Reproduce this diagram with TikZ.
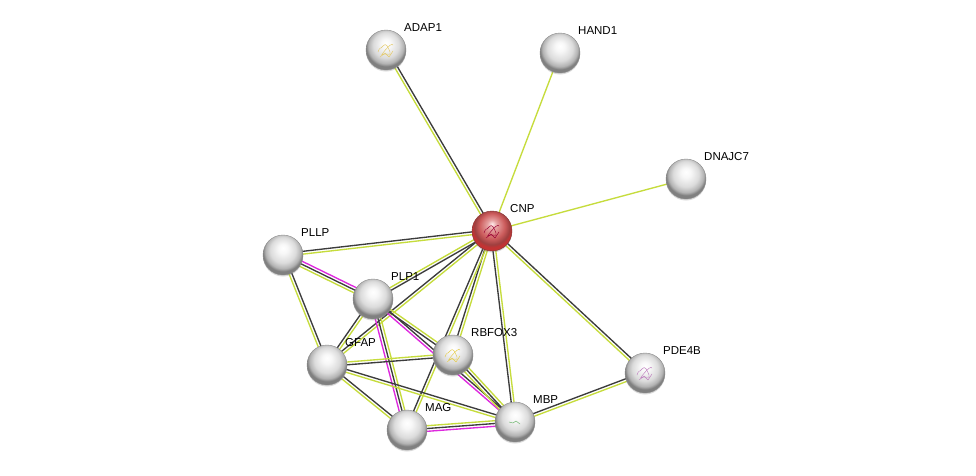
\documentclass[tikz,border=0pt]{standalone}
\usepackage{fontspec}
\setmainfont{Liberation Sans}
\usetikzlibrary{calc,backgrounds,shadows}
\definecolor{tm}{RGB}{198,220,60}
\definecolor{co}{RGB}{60,60,60}
\definecolor{ex}{RGB}{222,40,222}
\pgfdeclareradialshading{graysphere}{\pgfpoint{0bp}{9bp}}{color(0bp)=(white); color(6bp)=(white!97!black); color(16bp)=(black!14); color(22bp)=(black!30); color(25bp)=(black!50); color(50bp)=(black!50)}
\pgfdeclareradialshading{redsphere}{\pgfpoint{0bp}{9bp}}{color(0bp)=(red!8!white); color(6bp)=(red!30!white!90!black); color(16bp)=(red!55!white!80!black); color(22bp)=(red!60!white!62!black); color(25bp)=(red!70!black!80); color(50bp)=(red!70!black!80)}
\tikzset{
  prot/.style={circle, minimum size=40pt, inner sep=0pt, shading=graysphere, draw=black!45, line width=0.4pt,
    drop shadow={shadow xshift=0pt, shadow yshift=-1.5pt, opacity=0.3}},
  seed/.style={prot, shading=redsphere, draw=red!40!black!80},
  lab/.style={anchor=west, font=\fontsize{11.5}{13}\selectfont, inner sep=0pt},
  ed/.style={line width=1.35pt},
  squigline/.style={line width=0.45pt, line join=round, line cap=round},
}
\newcommand\edgeline[4]{\draw[ed,#4] ($(#1)!#3!90:(#2)$) -- ($(#2)!#3!-90:(#1)$);}
\newcommand\eOne[3]{\edgeline{#1}{#2}{0pt}{#3}}
\newcommand\eTwo[4]{\edgeline{#1}{#2}{-1.4pt}{#3}\edgeline{#1}{#2}{1.4pt}{#4}}
\newcommand\eThree[5]{\edgeline{#1}{#2}{-2.8pt}{#3}\edgeline{#1}{#2}{0pt}{#4}\edgeline{#1}{#2}{2.8pt}{#5}}
\newcommand\squig[2]{\draw[squigline,#2] ($(#1)+(-8,2)$) .. controls +(2,-6) and +(-3,4) .. ($(#1)+(-3,-4)$) .. controls +(3,-4) and +(-2,-5) .. ($(#1)+(4,2)$) .. controls +(2,5) and +(3,-3) .. ($(#1)+(-4,5)$) .. controls +(-3,3) and +(-2,-4) .. ($(#1)+(7,-5)$);
\draw[squigline,#2] ($(#1)+(-6,7)$) -- ($(#1)+(-1,3)$) -- ($(#1)+(3,7)$) -- ($(#1)+(7,1)$);}
\begin{document}
\begin{tikzpicture}[x=1pt,y=-1pt]
\useasboundingbox (0,0) rectangle (976,475);
% proteins
\node[seed] (CNP) at (492,231) {};
\node[prot] (ADAP1) at (386,50) {};
\node[prot] (HAND1) at (560,53) {};
\node[prot] (DNAJC7) at (686,179) {};
\node[prot] (PLLP) at (283,255) {};
\node[prot] (PLP1) at (373,299) {};
\node[prot] (RBFOX3) at (453,355) {};
\node[prot] (GFAP) at (327,365) {};
\node[prot] (MAG) at (407,430) {};
\node[prot] (MBP) at (515,422) {};
\node[prot] (PDE4B) at (645,373) {};
% structure images
\squig{CNP}{red!75!blue!80!black}
\squig{ADAP1}{brown!60!yellow!70}
\squig{RBFOX3}{brown!50!yellow!80}
\squig{PDE4B}{violet!50!white}
\draw[squigline,green!50!black!60] ($(MBP)+(-6,0)$) -- ($(MBP)+(-2,1)$) -- ($(MBP)+(1,-1)$) -- ($(MBP)+(5,2)$);
% labels
\node[lab] (CNPl) at ($(CNP)+(18,-22)$) {CNP};
\node[lab] (ADAP1l) at ($(ADAP1)+(18,-22)$) {ADAP1};
\node[lab] (HAND1l) at ($(HAND1)+(18,-22)$) {HAND1};
\node[lab] (DNAJC7l) at ($(DNAJC7)+(18,-22)$) {DNAJC7};
\node[lab] (PLLPl) at ($(PLLP)+(18,-22)$) {PLLP};
\node[lab] (PLP1l) at ($(PLP1)+(18,-22)$) {PLP1};
\node[lab] (RBFOX3l) at ($(RBFOX3)+(18,-22)$) {RBFOX3};
\node[lab] (GFAPl) at ($(GFAP)+(18,-22)$) {GFAP};
\node[lab] (MAGl) at ($(MAG)+(18,-22)$) {MAG};
\node[lab] (MBPl) at ($(MBP)+(18,-22)$) {MBP};
\node[lab] (PDE4Bl) at ($(PDE4B)+(18,-22)$) {PDE4B};
% interactions (first colour lies on the right of the direction of travel)
\begin{scope}[on background layer]
\fill[white] (0,0) rectangle (976,475);
\eTwo{CNP}{ADAP1}{co}{tm}
\eOne{CNP}{HAND1}{tm}
\eOne{CNP}{DNAJC7}{tm}
\eTwo{CNP}{PLLP}{co}{tm}
\eTwo{CNP}{PLP1}{tm}{co}
\eTwo{CNP}{GFAP}{co}{tm}
\eTwo{CNP}{RBFOX3}{co}{tm}
\eTwo{CNP}{MAG}{co}{tm}
\eTwo{CNP}{MBP}{co}{tm}
\eTwo{CNP}{PDE4B}{tm}{co}
\eThree{PLLP}{PLP1}{tm}{co}{ex}
\eTwo{PLLP}{GFAP}{tm}{co}
\eTwo{PLP1}{GFAP}{co}{tm}
\eTwo{PLP1}{RBFOX3}{co}{tm}
\eTwo{PLP1}{MBP}{ex}{co}
\eThree{PLP1}{MAG}{ex}{co}{tm}
\eTwo{GFAP}{RBFOX3}{co}{tm}
\eTwo{GFAP}{MAG}{tm}{co}
\eTwo{GFAP}{MBP}{tm}{co}
\eThree{MAG}{MBP}{ex}{co}{tm}
\eThree{RBFOX3}{MBP}{tm}{co}{tm}
\eTwo{MBP}{PDE4B}{tm}{co}
\end{scope}
\end{tikzpicture}
\end{document}
